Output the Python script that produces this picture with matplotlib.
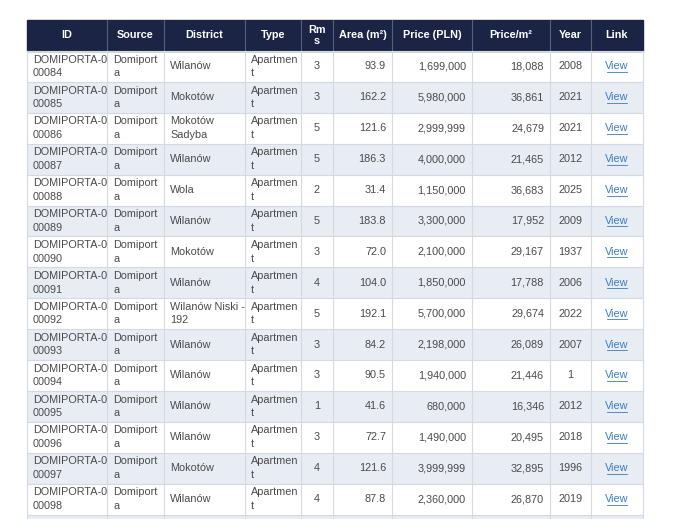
import matplotlib.pyplot as plt
from matplotlib.patches import Rectangle

plt.rcParams['font.family'] = ['Liberation Sans', 'DejaVu Sans']

headers = ['ID', 'Source', 'District', 'Type', 'Rm\ns', 'Area (m²)', 'Price (PLN)', 'Price/m²', 'Year', 'Link']
ids = ['DOMIPORTA-0\n000%d' % n for n in range(84, 99)]
sources = ['Domiport\na'] * 15
districts = ['Wilanów', 'Mokotów', 'Mokotów\nSadyba', 'Wilanów', 'Wola', 'Wilanów', 'Mokotów', 'Wilanów',
             'Wilanów Niski -\n192', 'Wilanów', 'Wilanów', 'Wilanów', 'Wilanów', 'Mokotów', 'Wilanów']
types = ['Apartmen\nt'] * 15
rooms = [3, 3, 5, 5, 2, 5, 3, 4, 5, 3, 3, 1, 3, 4, 4]
areas = [93.9, 162.2, 121.6, 186.3, 31.4, 183.8, 72.0, 104.0, 192.1, 84.2, 90.5, 41.6, 72.7, 121.6, 87.8]
prices = [1699000, 5980000, 2999999, 4000000, 1150000, 3300000, 2100000, 1850000, 5700000, 2198000,
          1940000, 680000, 1490000, 3999999, 2360000]
price_m2 = [18088, 36861, 24679, 21465, 36683, 17952, 29167, 17788, 29674, 26089, 21446, 16346, 20495, 32895, 26870]
years = [2008, 2021, 2021, 2012, 2025, 2009, 1937, 2006, 2022, 2007, 1, 2012, 2018, 1996, 2019]

col_edges = [27, 107, 164, 245, 301, 333, 392, 472, 550, 591, 643]
aligns = ['left', 'left', 'left', 'left', 'center', 'right', 'right', 'right', 'center', 'center']
header_top, header_h, row_h = 20, 31, 30.9
navy = '#1b2444'
grid = '#d3dae3'
stripe = '#e8edf4'

fig = plt.figure(figsize=(6.8, 5.19), dpi=100)
ax = fig.add_axes([0, 0, 1, 1])
ax.set_xlim(0, 680)
ax.set_ylim(519, 0)
ax.axis('off')


def cell_x(c):
    a = aligns[c]
    if a == 'left':
        return col_edges[c] + 6
    if a == 'right':
        return col_edges[c + 1] - 6
    return (col_edges[c] + col_edges[c + 1]) / 2


# header
ax.add_patch(Rectangle((col_edges[0], header_top), col_edges[-1] - col_edges[0], header_h, color=navy))
for c, h in enumerate(headers):
    ax.text((col_edges[c] + col_edges[c + 1]) / 2, header_top + header_h / 2, h, color='white',
            fontsize=7.8, fontweight='bold', ha='center', va='center', linespacing=1.05)
for x in col_edges[1:-1]:
    ax.plot([x, x], [header_top, header_top + header_h], color='#55607a', lw=0.8)

# body
body_top = header_top + header_h
n = len(ids) + 1
for r in range(n):
    y0 = body_top + r * row_h
    if r % 2 == 1:
        ax.add_patch(Rectangle((col_edges[0], y0), col_edges[-1] - col_edges[0], row_h, color=stripe, lw=0))
    ax.plot([col_edges[0], col_edges[-1]], [y0, y0], color=grid, lw=0.8)
    if r >= len(ids):
        continue
    yc = y0 + row_h / 2
    vals = [ids[r], sources[r], districts[r], types[r], str(rooms[r]), f'{areas[r]:.1f}',
            f'{prices[r]:,}', f'{price_m2[r]:,}', str(years[r]), 'View']
    for c, v in enumerate(vals):
        if c == 9:
            ax.text(cell_x(c), yc, v, color='#3a7bc8', fontsize=7.8, ha='center', va='center')
            ax.plot([cell_x(c) - 10, cell_x(c) + 10], [yc + 5.5, yc + 5.5], color='#3a7bc8', lw=0.6)
        else:
            ax.text(cell_x(c), yc, v, color='#4a4a4a', fontsize=7.8, ha=aligns[c], va='center',
                    linespacing=1.45)
for x in col_edges:
    ax.plot([x, x], [body_top, 519], color=grid, lw=0.8)

fig.savefig('out.png', dpi=100, facecolor='white')
